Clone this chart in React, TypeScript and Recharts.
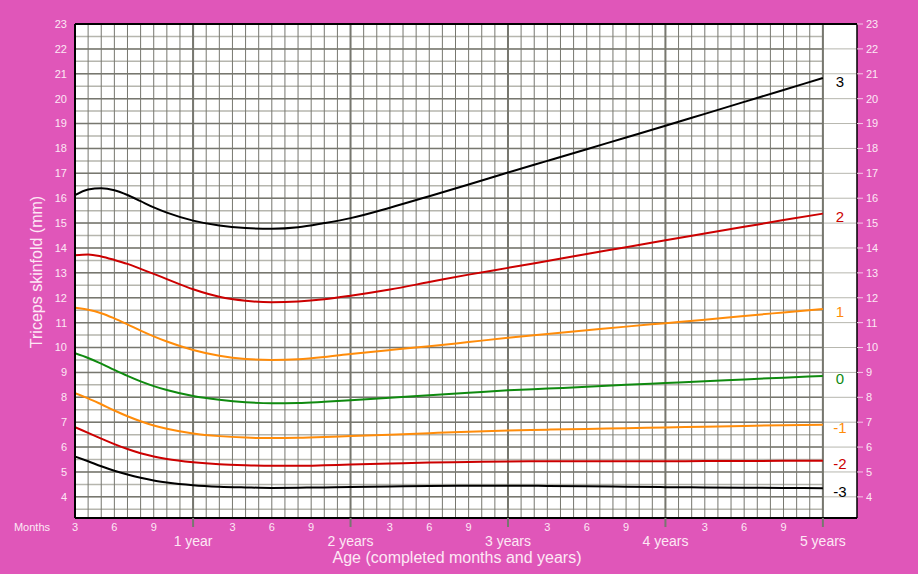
import React from "react";
import {
  LineChart,
  Line,
  XAxis,
  YAxis,
  ReferenceLine,
  ReferenceArea,
} from "recharts";

// age in completed months
const ages = [3, 4, 5, 6, 7, 8, 9, 10, 12, 14, 16, 18, 20, 22, 24, 27, 30, 33, 36, 39, 42, 45, 48, 51, 54, 57, 60];

const sd3 = [16.12, 16.35, 16.4, 16.32, 16.13, 15.88, 15.63, 15.42, 15.1, 14.9, 14.8, 14.77, 14.83, 15.0, 15.2, 15.62, 16.08, 16.55, 17.03, 17.5, 17.97, 18.44, 18.91, 19.39, 19.87, 20.35, 20.83];
const sd2 = [13.71, 13.74, 13.66, 13.52, 13.36, 13.16, 12.96, 12.75, 12.34, 12.04, 11.88, 11.82, 11.85, 11.94, 12.08, 12.33, 12.63, 12.93, 13.2, 13.48, 13.76, 14.03, 14.31, 14.58, 14.85, 15.12, 15.38];
const sd1 = [11.6, 11.52, 11.38, 11.17, 10.93, 10.68, 10.45, 10.24, 9.9, 9.67, 9.54, 9.5, 9.53, 9.62, 9.74, 9.9, 10.05, 10.22, 10.39, 10.54, 10.69, 10.84, 10.98, 11.12, 11.27, 11.41, 11.55];
const sd0 = [9.77, 9.58, 9.35, 9.1, 8.86, 8.64, 8.45, 8.29, 8.05, 7.9, 7.8, 7.76, 7.77, 7.82, 7.88, 7.98, 8.08, 8.18, 8.28, 8.35, 8.42, 8.5, 8.57, 8.64, 8.72, 8.79, 8.86];
const sdm1 = [8.17, 7.96, 7.72, 7.47, 7.24, 7.04, 6.87, 6.74, 6.55, 6.44, 6.38, 6.36, 6.37, 6.4, 6.44, 6.5, 6.56, 6.62, 6.67, 6.7, 6.73, 6.76, 6.79, 6.82, 6.85, 6.88, 6.9];
const sdm2 = [6.8, 6.57, 6.34, 6.12, 5.92, 5.75, 5.62, 5.52, 5.39, 5.31, 5.27, 5.25, 5.25, 5.27, 5.3, 5.34, 5.38, 5.4, 5.42, 5.43, 5.43, 5.43, 5.43, 5.44, 5.44, 5.45, 5.45];
const sdm3 = [5.62, 5.43, 5.23, 5.05, 4.9, 4.77, 4.66, 4.58, 4.47, 4.41, 4.38, 4.36, 4.37, 4.38, 4.4, 4.42, 4.44, 4.45, 4.45, 4.44, 4.43, 4.41, 4.39, 4.38, 4.37, 4.36, 4.35];

const yTicks = [4, 5, 6, 7, 8, 9, 10, 11, 12, 13, 14, 15, 16, 17, 18, 19, 20, 21, 22, 23];
const halfLines = [3.5, 4.5, 5.5, 6.5, 7.5, 8.5, 9.5, 10.5, 11.5, 12.5, 13.5, 14.5, 15.5, 16.5, 17.5, 18.5, 19.5, 20.5, 21.5, 22.5];
const xTicks = [3, 6, 9, 12, 15, 18, 21, 24, 27, 30, 33, 36, 39, 42, 45, 48, 51, 54, 57, 60];
const monthLines = Array.from({ length: 57 }, (_, i) => i + 4);
const yearLines = [12, 24, 36, 48, 60];
const yearLabels: Record<number, string> = {
  12: "1 year",
  24: "2 years",
  36: "3 years",
  48: "4 years",
  60: "5 years",
};

const series = [
  { key: "sd3", name: "3", values: sd3, color: "#000000" },
  { key: "sd2", name: "2", values: sd2, color: "#cc0000" },
  { key: "sd1", name: "1", values: sd1, color: "#ff8c0a" },
  { key: "sd0", name: "0", values: sd0, color: "#0f8a0f" },
  { key: "sdm1", name: "-1", values: sdm1, color: "#ff8c0a" },
  { key: "sdm2", name: "-2", values: sdm2, color: "#cc0000" },
  { key: "sdm3", name: "-3", values: sdm3, color: "#000000" },
];

const data = ages.map((age, i) => {
  const row: Record<string, number> = { age };
  series.forEach((s) => {
    row[s.key] = s.values[i];
  });
  return row;
});

const PINK = "#e056b9";
const TEXT = "#fde8f5";
const DARK = "#77776f";
const LIGHT = "#b6b6ae";
const FONT = "'Liberation Sans', Arial, sans-serif";
const X_MAX = 62.6;
const Y_MIN = 3.15;

const endLabel = (name: string, color: string) => (props: any) => {
  if (props.index !== ages.length - 1) return null;
  return (
    <text
      x={props.x + 17}
      y={props.y + 3}
      textAnchor="middle"
      dominantBaseline="central"
      fill={color}
      fontSize={15}
      fontFamily={FONT}
    >
      {name}
    </text>
  );
};

const AgeTick = (props: any) => {
  const { x, y, payload } = props;
  const m = payload.value;
  if (m % 12 === 0) {
    return (
      <g>
        <line x1={x} x2={x} y1={y} y2={y + 9} stroke={DARK} strokeWidth={2} />
        <text x={x} y={y + 23} textAnchor="middle" dominantBaseline="central" fill={TEXT} fontSize={14} fontFamily={FONT}>
          {yearLabels[m]}
        </text>
      </g>
    );
  }
  return (
    <g>
      {m === 3 && (
        <>
          <text x={32} y={y + 9} textAnchor="middle" dominantBaseline="central" fill={TEXT} fontSize={11} fontFamily={FONT}>
            Months
          </text>
          <text x={457} y={y + 39} textAnchor="middle" dominantBaseline="central" fill={TEXT} fontSize={16} fontFamily={FONT}>
            Age (completed months and years)
          </text>
        </>
      )}
      <text x={x} y={y + 9} textAnchor="middle" dominantBaseline="central" fill={TEXT} fontSize={11} fontFamily={FONT}>
        {m % 12}
      </text>
    </g>
  );
};

const yTitle = () => (
  <text
    x={36}
    y={272}
    transform="rotate(-90 36 272)"
    textAnchor="middle"
    dominantBaseline="central"
    fill={TEXT}
    fontSize={16}
    fontFamily={FONT}
  >
    Triceps skinfold (mm)
  </text>
);

export default function App() {
  return (
    <div style={{ position: "absolute", left: 0, top: 0, width: 918, height: 574, background: PINK }}>
      <LineChart
        width={918}
        height={574}
        data={data}
        margin={{ top: 24, right: 0, bottom: 0, left: 0 }}
      >
        <XAxis
          dataKey="age"
          type="number"
          domain={[3, X_MAX]}
          ticks={xTicks}
          interval={0}
          height={56}
          tick={<AgeTick />}
          tickLine={false}
          tickSize={0}
          tickMargin={0}
          axisLine={{ stroke: "#000", strokeWidth: 2 }}
          allowDataOverflow
        />
        <YAxis
          yAxisId="l"
          orientation="left"
          type="number"
          domain={[Y_MIN, 23]}
          ticks={yTicks}
          interval={0}
          width={75}
          tickLine={false}
          tickSize={0}
          tickMargin={8}
          tick={{ fill: TEXT, fontSize: 11, fontFamily: FONT }}
          axisLine={{ stroke: "#000", strokeWidth: 2 }}
          allowDataOverflow
          label={{ content: yTitle }}
        />
        <YAxis
          yAxisId="r"
          orientation="right"
          type="number"
          domain={[Y_MIN, 23]}
          ticks={yTicks}
          interval={0}
          width={61}
          tickSize={6}
          tickMargin={3}
          tickLine={{ stroke: "#f3c6e6" }}
          tick={{ fill: TEXT, fontSize: 11, fontFamily: FONT, textAnchor: "start" }}
          axisLine={{ stroke: "#000", strokeWidth: 1.5 }}
          allowDataOverflow
        />

        <ReferenceArea yAxisId="l" x1={3} x2={X_MAX} y1={Y_MIN} y2={23} fill="#ffffff" fillOpacity={1} stroke="none" />

        {yTicks.slice(0, -1).map((v) => (
          <ReferenceLine key={"hr" + v} yAxisId="l" y={v} stroke={LIGHT} strokeWidth={1} />
        ))}
        {halfLines.map((v) => (
          <ReferenceLine
            key={"hh" + v}
            yAxisId="l"
            segment={[{ x: 3, y: v }, { x: 60, y: v }]}
            stroke={LIGHT}
            strokeWidth={1.5}
          />
        ))}
        {monthLines.map((m) => (
          <ReferenceLine key={"vm" + m} yAxisId="l" x={m} stroke={DARK} strokeWidth={1} />
        ))}
        {yTicks.slice(0, -1).map((v) => (
          <ReferenceLine
            key={"hi" + v}
            yAxisId="l"
            segment={[{ x: 3, y: v }, { x: 60, y: v }]}
            stroke={DARK}
            strokeWidth={1.5}
          />
        ))}
        {yearLines.map((m) => (
          <ReferenceLine key={"vy" + m} yAxisId="l" x={m} stroke={DARK} strokeWidth={2} />
        ))}
        <ReferenceLine yAxisId="l" y={23} stroke="#000" strokeWidth={2} />

        {series.map((s) => (
          <Line
            key={s.key}
            yAxisId="l"
            dataKey={s.key}
            type="monotone"
            stroke={s.color}
            strokeWidth={2}
            dot={false}
            activeDot={false}
            isAnimationActive={false}
            label={endLabel(s.name, s.color)}
          />
        ))}
      </LineChart>
    </div>
  );
}
